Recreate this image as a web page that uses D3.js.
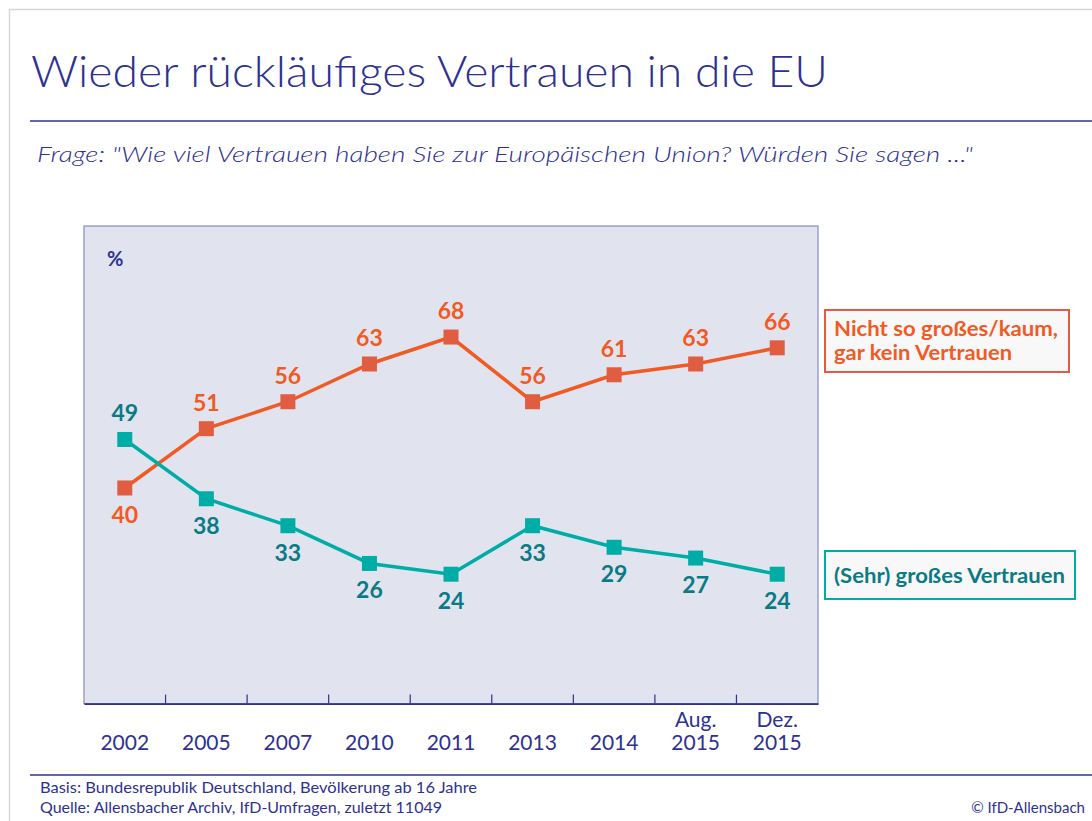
<!DOCTYPE html>
<html><head><meta charset="utf-8">
<script src="https://cdn.jsdelivr.net/npm/d3@7"></script>
<style>
html,body{margin:0;padding:0;background:#fff;}
svg{display:block;}
text{font-family:Lato,"Open Sans",sans-serif;}
</style></head>
<body>
<svg id="chart" width="1092" height="821"></svg>
<script>
const categories = ["2002","2005","2007","2010","2011","2013","2014","Aug.|2015","Dez.|2015"];
const noTrustValues = [40,51,56,63,68,56,61,63,66];
const trustValues = [49,38,33,26,24,33,29,27,24];
const titleText = "Wieder rückläufiges Vertrauen in die EU";
const questionText = "Frage: \"Wie viel Vertrauen haben Sie zur Europäischen Union? Würden Sie sagen ...\"";
const legendNoTrust = ["Nicht so großes/kaum,","gar kein Vertrauen"];
const legendTrust = ["(Sehr) großes Vertrauen"];
const footLines = ["Basis: Bundesrepublik Deutschland, Bevölkerung ab 16 Jahre","Quelle: Allensbacher Archiv, IfD-Umfragen, zuletzt 11049"];
const copyright = "© IfD-Allensbach";

const navy = "#2e3192", orange = "#f15a24", orangeMark = "#e05d42",
      teal = "#00ada6", tealText = "#0a7a85";

const svg = d3.select("#chart");

// outer frame
svg.append("path").attr("d","M9.5,821 V9.5 H1092").attr("fill","none").attr("stroke","#d8d8d8").attr("stroke-width",1.5);

// title
svg.append("text").attr("x",31).attr("y",87).attr("fill",navy)
  .attr("font-size",44).attr("font-weight",300).attr("textLength",797).attr("lengthAdjust","spacingAndGlyphs")
  .text(titleText);
svg.append("line").attr("x1",30).attr("x2",1092).attr("y1",121).attr("y2",121).attr("stroke",navy).attr("stroke-width",1.5);
svg.append("text").attr("x",37).attr("y",162).attr("fill",navy).attr("font-size",22).attr("font-style","italic").attr("font-weight",300)
  .attr("textLength",936).attr("lengthAdjust","spacingAndGlyphs").text(questionText);

// plot area
const pLeft = 84, pRight = 818, pTop = 226, pBottom = 703.6;
const x = d3.scaleBand().domain(categories).range([pLeft,pRight]);
const y = d3.scaleLinear().domain([0,88.6]).range([pBottom,pTop]);

svg.append("rect").attr("x",pLeft).attr("y",pTop).attr("width",pRight-pLeft).attr("height",pBottom-pTop)
  .attr("fill","#e1e4ee").attr("stroke","#8a8ac6").attr("stroke-width",1.2);

// x axis
const xAxis = d3.axisBottom(x).tickSize(0).tickFormat("");
const gx = svg.append("g").attr("transform",`translate(0,${pBottom})`).call(xAxis);
gx.select(".domain").attr("stroke",navy).attr("stroke-width",1.8);
categories.slice(1).forEach(c=>{
  gx.append("line").attr("x1",x(c)).attr("x2",x(c)).attr("y1",0).attr("y2",-9).attr("stroke",navy).attr("stroke-width",1.2);
});
categories.forEach(c=>{
  const parts = c.split("|");
  const t = svg.append("text").attr("x",x(c)+x.bandwidth()/2).attr("text-anchor","middle")
    .attr("fill",navy).attr("font-size",21);
  if(parts.length===1){ t.attr("y",750).text(parts[0]); }
  else {
    t.append("tspan").attr("x",x(c)+x.bandwidth()/2).attr("y",727).text(parts[0]);
    t.append("tspan").attr("x",x(c)+x.bandwidth()/2).attr("y",750).text(parts[1]);
  }
});

svg.append("text").attr("x",107).attr("y",266).attr("fill",navy).attr("font-size",20).attr("font-weight",700).text("%");

const cx = c => x(c)+x.bandwidth()/2;
function drawSeries(vals, lineColor, markColor, textColor, above){
  const line = d3.line().x((d,i)=>cx(categories[i])).y(d=>y(d));
  svg.append("path").datum(vals).attr("d",line).attr("fill","none").attr("stroke",lineColor).attr("stroke-width",3.5);
  svg.selectAll(null).data(vals).enter().append("rect")
    .attr("x",(d,i)=>cx(categories[i])-7.5).attr("y",d=>y(d)-7.5).attr("width",15).attr("height",15).attr("fill",markColor);
  svg.selectAll(null).data(vals).enter().append("text")
    .attr("x",(d,i)=>cx(categories[i])).attr("text-anchor","middle")
    .attr("y",(d,i)=>{ const a = above(i); return a ? y(d)-18 : y(d)+35; })
    .attr("fill",textColor).attr("font-size",23).attr("font-weight",700).text(d=>d);
}
drawSeries(noTrustValues, orange, orangeMark, orange, i=>i!==0);
drawSeries(trustValues, teal, teal, tealText, i=>i===0);

// legends
svg.append("rect").attr("x",825).attr("y",310).attr("width",244).attr("height",62).attr("fill","#f8f8f8").attr("stroke",orangeMark).attr("stroke-width",2);
const noLens = [224, 178];
legendNoTrust.forEach((l,i)=>svg.append("text").attr("x",834).attr("y",336+i*24).attr("fill",orange).attr("font-size",21).attr("font-weight",700)
  .attr("textLength",noLens[i]).attr("lengthAdjust","spacingAndGlyphs").text(l));
svg.append("rect").attr("x",825).attr("y",551).attr("width",250).attr("height",48).attr("fill","#f8f8f8").attr("stroke",teal).attr("stroke-width",2);
legendTrust.forEach((l,i)=>svg.append("text").attr("x",834).attr("y",583).attr("fill",tealText).attr("font-size",21).attr("font-weight",700)
  .attr("textLength",231).attr("lengthAdjust","spacingAndGlyphs").text(l));

// footer
svg.append("line").attr("x1",30).attr("x2",1092).attr("y1",775).attr("y2",775).attr("stroke",navy).attr("stroke-width",1.5);
const footLens = [437, 402];
footLines.forEach((l,i)=>svg.append("text").attr("x",40).attr("y",793+i*20).attr("fill",navy).attr("font-size",15)
  .attr("textLength",footLens[i]).attr("lengthAdjust","spacingAndGlyphs").text(l));
svg.append("text").attr("x",1085).attr("y",813).attr("text-anchor","end").attr("fill",navy).attr("font-size",15).text(copyright);
</script>
</body></html>
